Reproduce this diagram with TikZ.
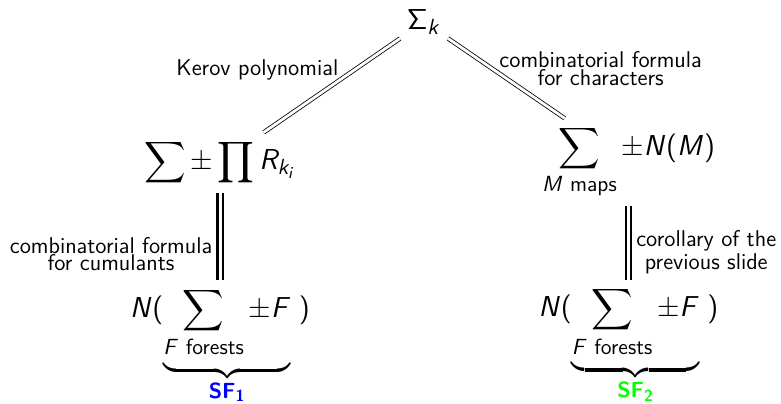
\documentclass[tikz,border=0pt]{standalone}
\usepackage{amsmath}
\usepackage{tikz}
\usetikzlibrary{positioning}
% sans-serif math, as on a slide
\DeclareMathVersion{sans}
\SetSymbolFont{operators}{sans}{OT1}{cmss}{m}{n}
\SetSymbolFont{letters}{sans}{OT1}{cmss}{m}{sl}
\SetMathAlphabet{\mathbf}{sans}{OT1}{cmss}{bx}{n}
\DeclareMathSizes{14.4}{14.4}{11}{8.5}
\tikzset{
  expr/.style={font=\sffamily\mathversion{sans}\fontsize{14.4}{17}\selectfont},
  note/.style={font=\sffamily\fontsize{11.4}{8.8}\selectfont, align=center},
  thin eq/.style={double, double distance=1.4pt, line width=0.4pt},
  thick eq/.style={double, double distance=1.5pt, line width=1.1pt},
}

\begin{document}
\begin{tikzpicture}[on grid]
    \useasboundingbox (0,0) rectangle (390.5pt,-201.5pt);
    \node[expr] (sigma) at (212pt,-11pt) {$\Sigma_k$};
    \node[expr, below left=70.25pt and 102pt of sigma] (cum) {$\displaystyle\sum\pm\prod R_{k_i}$};
    \node[expr, below right=70pt and 102.25pt of sigma] (maps) {$\displaystyle\sum_{M\text{ maps}}\pm N(M)$};
    \node[expr, below=91.75pt of cum] (sfa) {$\displaystyle N(\underbrace{\sum_{F\text{ forests}\mathstrut}\pm F}_{\textcolor{blue}{\mathbf{SF}_{\mathbf{1}}}}\;)$};
    \node[expr, below=91.75pt of maps] (sfb) {$\displaystyle N(\underbrace{\sum_{F\text{ forests}\mathstrut}\pm F}_{\textcolor{green}{\mathbf{SF}_{\mathbf{2}}}}\;)$};
    \draw[thin eq] (sigma) -- node[note, pos=0.45, anchor=south east, inner sep=0pt] (kerov) {Kerov polynomial} (cum);
    \draw[thin eq] (sigma) -- node[note, pos=0.38, right] (chars) {combinatorial formula\\for characters} (maps);
    \draw[thick eq] (cum) -- node[note, pos=0.7, left] (cumul) {combinatorial formula\\for cumulants} (sfa);
    \draw[thick eq] (maps) -- node[note, pos=0.63, right] (coro) {corollary of the\\previous slide} (sfb);
  \end{tikzpicture}
\end{document}
